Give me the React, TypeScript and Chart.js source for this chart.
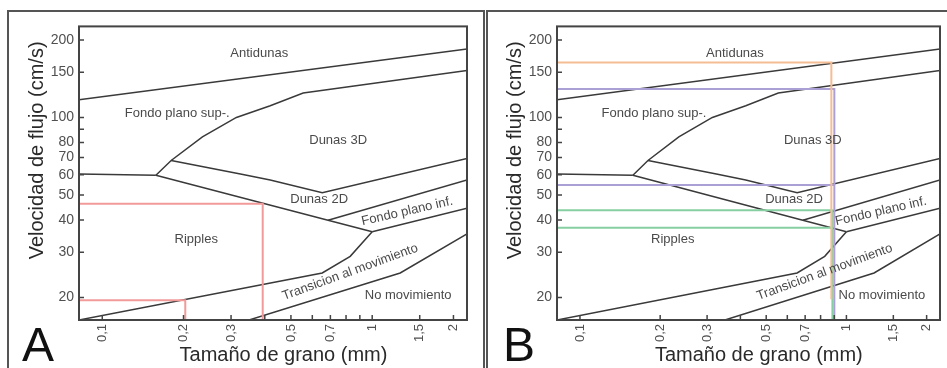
import React, { useEffect, useRef } from 'react';
import { Chart, registerables } from 'chart.js';

Chart.register(...registerables);

const FONT = '"Liberation Sans", Arial, Helvetica, sans-serif';

// Axis ranges (grain size mm, flow velocity cm/s)
const X_MIN = 0.082;
const X_MAX = 2.245;
const Y_MIN = 16.35;
const Y_MAX = 226;

const X_TICK_LABELS = [0.1, 0.2, 0.3, 0.5, 0.7, 1, 1.5, 2];
const X_TICK_MARKS = [0.1, 0.2, 0.3, 0.4, 0.5, 0.6, 0.7, 0.8, 0.9, 1, 1.5, 2];
const Y_TICK_LABELS = [20, 30, 40, 50, 60, 70, 80, 100, 150, 200];
const Y_TICK_MARKS = [20, 30, 40, 50, 60, 70, 80, 90, 100, 150, 200];

const X_TITLE = 'Tamaño de grano (mm)';
const Y_TITLE = 'Velocidad de flujo (cm/s)';

// Phase boundaries: [grain size, velocity]
const antidunesLower = [[X_MIN, 117.3], [X_MAX, 184.8]];
const upperPlaneLower = [[0.158, 59.7], [0.18, 68.1], [0.235, 84.1], [0.314, 100.1], [0.419, 111.2], [0.555, 124.6], [X_MAX, 152.5]];
const ripplesPlateau = [[X_MIN, 60.3], [0.158, 59.7]];
const dunes2DTop = [[0.18, 68.1], [0.325, 60.3], [0.419, 57.2], [0.653, 51.0], [X_MAX, 69.3]];
const ripplesTop = [[0.158, 59.7], [0.686, 39.9], [1.0, 36.0]];
const dunes2DBottom = [[0.686, 39.9], [X_MAX, 57.2]];
const lowerPlaneBottom = [[1.0, 36.0], [X_MAX, 44.4]];
const ripplesBottom = [[X_MIN, Y_MIN], [0.653, 24.9], [0.829, 28.9], [1.0, 36.0]];
const motionThreshold = [[0.35, Y_MIN], [1.27, 24.9], [X_MAX, 35.3]];

const BOUNDARIES = [antidunesLower, upperPlaneLower, ripplesPlateau, dunes2DTop, ripplesTop, dunes2DBottom, lowerPlaneBottom, ripplesBottom, motionThreshold];

// Panel A reading lines
const redUpper = [[X_MIN, 46.3], [0.393, 46.3], [0.393, Y_MIN]];
const redLower = [[X_MIN, 19.5], [0.203, 19.5], [0.203, Y_MIN]];

// Panel B reading lines
const orangeLine = [[X_MIN, 163.5], [0.878, 163.5], [0.878, 19.7]];
const purpleUpper = [[X_MIN, 129.1], [0.901, 129.1], [0.901, Y_MIN]];
const purpleLower = [[X_MIN, 54.7], [0.901, 54.7]];
const greenUpper = [[X_MIN, 43.6], [0.886, 43.6], [0.886, Y_MIN]];
const greenLower = [[X_MIN, 37.3], [0.886, 37.3]];

// Region labels
const REGION_LABELS = ['Antidunas', 'Fondo plano sup-.', 'Dunas 3D', 'Dunas 2D', 'Fondo plano inf.', 'Ripples', 'Transicion al movimiento', 'No movimiento'];
const LABEL_X = [0.3815, 0.1896, 0.748, 0.636, 1.348, 0.2229, 0.829, 1.359];
const LABEL_Y = [177, 103.7, 81.2, 48.0, 43.2, 33.5, 25.1, 20.35];
const LABEL_ANGLE = [0, 0, 0, 0, -13, 0, -20, 0];

const LINE_COLOR = '#3a3a3a';
const AXIS_COLOR = '#444';
const TICK_COLOR = '#505050';
const TITLE_COLOR = '#2a2a2a';
const LABEL_COLOR = '#4a4a4a';

const toXY = (pts: number[][]) => pts.map(([x, y]) => ({ x, y }));

const decorPlugin = {
  id: 'decor',
  afterDatasetsDraw(chart: any) {
    const { ctx, chartArea: a, scales } = chart;
    const xs = scales.x;
    const ys = scales.y;
    ctx.save();
    ctx.strokeStyle = AXIS_COLOR;
    ctx.lineWidth = 2;
    ctx.strokeRect(a.left, a.top, a.right - a.left, a.bottom - a.top);
    ctx.lineWidth = 1.5;
    ctx.beginPath();
    X_TICK_MARKS.forEach((v) => {
      const px = xs.getPixelForValue(v);
      ctx.moveTo(px, a.bottom);
      ctx.lineTo(px, a.bottom - 5);
    });
    Y_TICK_MARKS.forEach((v) => {
      const py = ys.getPixelForValue(v);
      ctx.moveTo(a.left - 1, py);
      ctx.lineTo(a.left + 5, py);
    });
    ctx.stroke();

    ctx.fillStyle = LABEL_COLOR;
    ctx.font = `13px ${FONT}`;
    ctx.textAlign = 'center';
    ctx.textBaseline = 'middle';
    REGION_LABELS.forEach((t, i) => {
      ctx.save();
      ctx.translate(xs.getPixelForValue(LABEL_X[i]), ys.getPixelForValue(LABEL_Y[i]));
      ctx.rotate((LABEL_ANGLE[i] * Math.PI) / 180);
      ctx.fillText(t, 0, 0);
      ctx.restore();
    });

    // axis titles
    ctx.fillStyle = TITLE_COLOR;
    ctx.font = `20px ${FONT}`;
    ctx.textAlign = 'center';
    ctx.textBaseline = 'alphabetic';
    ctx.fillText(X_TITLE, a.left + 0.527 * (a.right - a.left), a.bottom + 41);
    ctx.save();
    ctx.translate(a.left - 36.5, a.top + 124);
    ctx.rotate(-Math.PI / 2);
    ctx.fillText(Y_TITLE, 0, 0);
    ctx.restore();
    ctx.restore();
  },
};

type Highlight = { pts: number[][]; color: string };

function makeChart(canvas: HTMLCanvasElement, highlights: Highlight[], padLeft: number, padRight: number) {
  const datasets: any[] = [
    ...highlights.map((h) => ({
      data: toXY(h.pts),
      borderColor: h.color,
      borderWidth: 2,
      pointRadius: 0,
      showLine: true,
      fill: false,
    })),
    ...BOUNDARIES.map((b) => ({
      data: toXY(b),
      borderColor: LINE_COLOR,
      borderWidth: 1.5,
      pointRadius: 0,
      showLine: true,
      fill: false,
    })),
  ];
  return new Chart(canvas, {
    type: 'scatter',
    data: { datasets },
    plugins: [decorPlugin],
    options: {
      animation: false,
      responsive: false,
      maintainAspectRatio: false,
      devicePixelRatio: 1,
      layout: { padding: { left: padLeft, right: padRight, top: 7, bottom: 0 } },
      plugins: { legend: { display: false }, tooltip: { enabled: false } },
      events: [],
      scales: {
        x: {
          type: 'logarithmic',
          min: X_MIN,
          max: X_MAX,
          afterBuildTicks: (s: any) => {
            s.ticks = X_TICK_LABELS.map((v) => ({ value: v }));
          },
          afterFit: (s: any) => {
            s.height = 48;
          },
          grid: { display: false, drawTicks: false },
          border: { display: false },
          ticks: {
            autoSkip: false,
            minRotation: 90,
            maxRotation: 90,
            padding: 4,
            color: TICK_COLOR,
            font: { size: 13, family: FONT },
            callback: (v: any) => String(v).replace('.', ','),
          },
          title: { display: false },
        },
        y: {
          type: 'logarithmic',
          min: Y_MIN,
          max: Y_MAX,
          afterBuildTicks: (s: any) => {
            s.ticks = Y_TICK_LABELS.map((v) => ({ value: v }));
          },
          afterFit: (s: any) => {
            s.width = 54;
          },
          grid: { display: false, drawTicks: false },
          border: { display: false },
          ticks: {
            autoSkip: false,
            padding: 5,
            color: TICK_COLOR,
            font: { size: 14, family: FONT },
            callback: (v: any) => String(v),
          },
          title: { display: false },
        },
      },
    } as any,
  });
}

function Panel({ left, width, highlights, padLeft, padRight, letter, letterLeft, frameLeft, frameWidth }: any) {
  const ref = useRef<HTMLCanvasElement>(null);
  useEffect(() => {
    const chart = makeChart(ref.current!, highlights, padLeft, padRight);
    return () => chart.destroy();
  }, []);
  return (
    <>
      <div
        style={{
          position: 'absolute',
          left: frameLeft,
          top: 10,
          width: frameWidth,
          height: 380,
          border: '2px solid #555',
          boxSizing: 'border-box',
        }}
      />
      <canvas ref={ref} width={width} height={355} style={{ position: 'absolute', left, top: 13, width, height: 355 }} />
      <div
        style={{
          position: 'absolute',
          left: letterLeft,
          top: 321,
          fontFamily: FONT,
          fontSize: 48,
          lineHeight: '48px',
          color: '#111',
        }}
      >
        {letter}
      </div>
    </>
  );
}

const HIGHLIGHTS_A: Highlight[] = [
  { pts: redUpper, color: '#f29a9a' },
  { pts: redLower, color: '#f29a9a' },
];
const HIGHLIGHTS_B: Highlight[] = [
  { pts: orangeLine, color: '#f5bd94' },
  { pts: purpleUpper, color: '#aaa0d6' },
  { pts: purpleLower, color: '#aaa0d6' },
  { pts: greenUpper, color: '#86cfa2' },
  { pts: greenLower, color: '#86cfa2' },
];

export default function App() {
  return (
    <div style={{ position: 'absolute', left: 0, top: 0, width: 947, height: 368, overflow: 'hidden', background: '#fff' }}>
      <Panel left={10} width={472} highlights={HIGHLIGHTS_A} padLeft={15} padRight={15} letter="A" letterLeft={22} frameLeft={7} frameWidth={478} />
      <Panel left={489} width={458} highlights={HIGHLIGHTS_B} padLeft={14} padRight={7} letter="B" letterLeft={503} frameLeft={486} frameWidth={480} />
    </div>
  );
}
